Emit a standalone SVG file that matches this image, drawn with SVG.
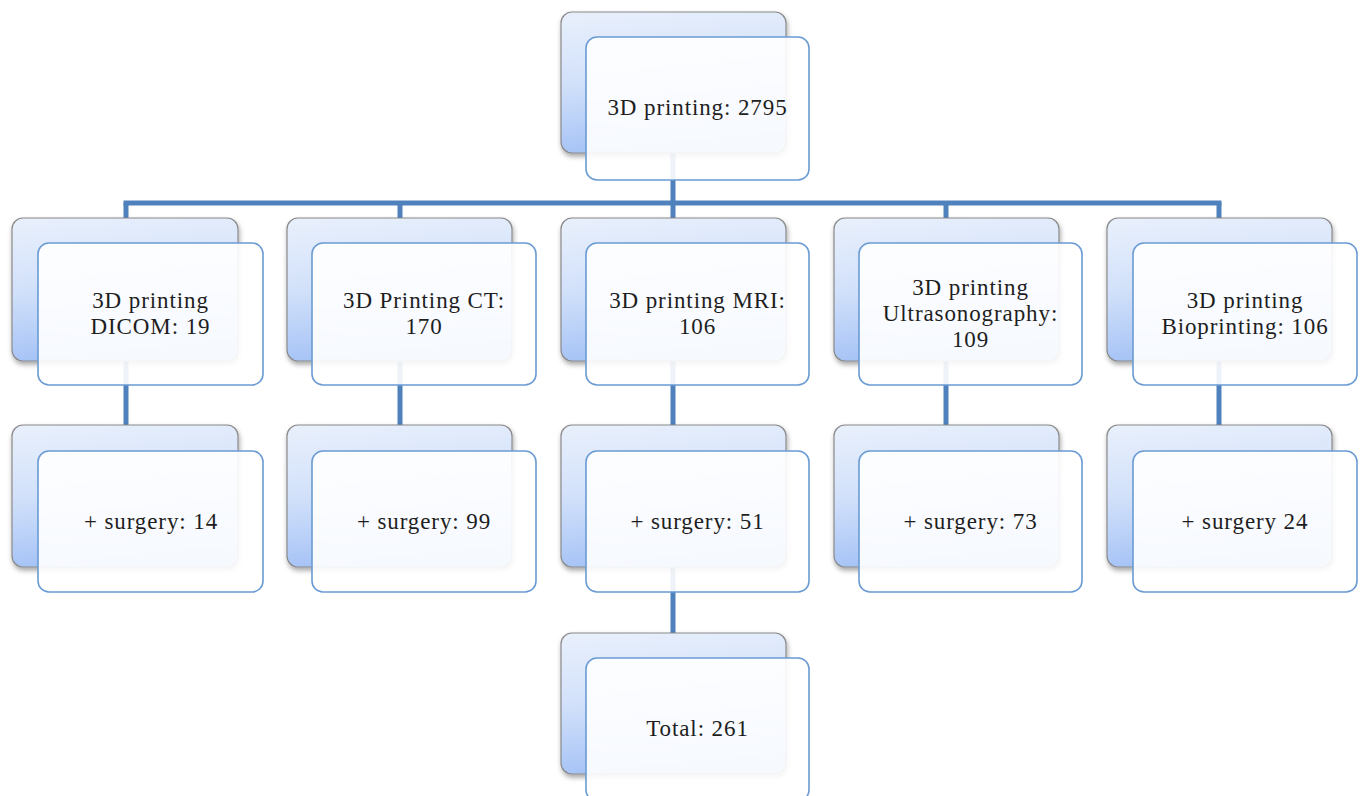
<svg xmlns="http://www.w3.org/2000/svg" width="1362" height="796" viewBox="0 0 1362 796">
<defs>
<linearGradient id="bg" x1="0" y1="0" x2="0.15" y2="1">
<stop offset="0" stop-color="#e9f0fc"/>
<stop offset="0.5" stop-color="#d2e1fa"/>
<stop offset="1" stop-color="#a6c3f6"/>
</linearGradient>
<filter id="sh" x="-10%" y="-10%" width="125%" height="130%">
<feDropShadow dx="1" dy="3" stdDeviation="2.5" flood-color="#000" flood-opacity="0.35"/>
</filter>
<style>
.back{fill:url(#bg);stroke:#8a8a8a;stroke-width:1.2;filter:url(#sh)}
.front{fill:#ffffff;fill-opacity:0.9;stroke:#6a9bd3;stroke-width:1.6}
.conn{stroke:#4f81bd;stroke-width:5;fill:none}
text{font-family:"Liberation Serif","Times New Roman",serif;font-size:23px;letter-spacing:0.9px;fill:#1e1e1e;text-anchor:middle}
</style>
</defs>
<rect width="1362" height="796" fill="#ffffff"/>
<g id="connectors">
<line class="conn" x1="673" y1="150" x2="673" y2="203"/>
<line class="conn" x1="123.5" y1="203" x2="1221.5" y2="203"/>
<line class="conn" x1="126" y1="203" x2="126" y2="222"/>
<line class="conn" x1="400" y1="203" x2="400" y2="222"/>
<line class="conn" x1="673" y1="203" x2="673" y2="222"/>
<line class="conn" x1="946" y1="203" x2="946" y2="222"/>
<line class="conn" x1="1219" y1="203" x2="1219" y2="222"/>
<line class="conn" x1="126" y1="358" x2="126" y2="428"/>
<line class="conn" x1="400" y1="358" x2="400" y2="428"/>
<line class="conn" x1="673" y1="358" x2="673" y2="428"/>
<line class="conn" x1="946" y1="358" x2="946" y2="428"/>
<line class="conn" x1="1219" y1="358" x2="1219" y2="428"/>
<line class="conn" x1="673" y1="564" x2="673" y2="636"/>
</g>
<g id="n-top">
<rect class="back" x="561" y="12" width="225" height="141" rx="11"/>
<rect class="front" x="586" y="37" width="223" height="143" rx="11"/>
<text x="697.5" y="115">3D printing: 2795</text>
</g>
<g id="n-dicom">
<rect class="back" x="12" y="218" width="226" height="143" rx="11"/>
<rect class="front" x="38" y="243" width="225" height="142" rx="11"/>
<text x="150.5" y="308">3D printing</text>
<text x="150.5" y="334">DICOM: 19</text>
</g>
<g id="n-ct">
<rect class="back" x="287" y="218" width="225" height="143" rx="11"/>
<rect class="front" x="312" y="243" width="224" height="142" rx="11"/>
<text x="424" y="308">3D Printing CT:</text>
<text x="424" y="334">170</text>
</g>
<g id="n-mri">
<rect class="back" x="561" y="218" width="225" height="143" rx="11"/>
<rect class="front" x="586" y="243" width="223" height="142" rx="11"/>
<text x="697.5" y="308">3D printing MRI:</text>
<text x="697.5" y="334">106</text>
</g>
<g id="n-ultra">
<rect class="back" x="834" y="218" width="225" height="143" rx="11"/>
<rect class="front" x="859" y="243" width="223" height="142" rx="11"/>
<text x="970.5" y="295">3D printing</text>
<text x="970.5" y="321">Ultrasonography:</text>
<text x="970.5" y="347">109</text>
</g>
<g id="n-bio">
<rect class="back" x="1107" y="218" width="225" height="143" rx="11"/>
<rect class="front" x="1133" y="243" width="224" height="142" rx="11"/>
<text x="1245" y="308">3D printing</text>
<text x="1245" y="334">Bioprinting: 106</text>
</g>
<g id="n-s-dicom">
<rect class="back" x="12" y="425" width="226" height="142" rx="11"/>
<rect class="front" x="38" y="451" width="225" height="141" rx="11"/>
<text x="151" y="529">+ surgery: 14</text>
</g>
<g id="n-s-ct">
<rect class="back" x="287" y="425" width="225" height="142" rx="11"/>
<rect class="front" x="312" y="451" width="224" height="141" rx="11"/>
<text x="424" y="529">+ surgery: 99</text>
</g>
<g id="n-s-mri">
<rect class="back" x="561" y="425" width="225" height="142" rx="11"/>
<rect class="front" x="586" y="451" width="223" height="141" rx="11"/>
<text x="697.5" y="529">+ surgery: 51</text>
</g>
<g id="n-s-ultra">
<rect class="back" x="834" y="425" width="225" height="142" rx="11"/>
<rect class="front" x="859" y="451" width="223" height="141" rx="11"/>
<text x="970.5" y="529">+ surgery: 73</text>
</g>
<g id="n-s-bio">
<rect class="back" x="1107" y="425" width="225" height="142" rx="11"/>
<rect class="front" x="1133" y="451" width="224" height="141" rx="11"/>
<text x="1245" y="529">+ surgery 24</text>
</g>
<g id="n-total">
<rect class="back" x="561" y="633" width="225" height="141" rx="11"/>
<rect class="front" x="586" y="658" width="223" height="143" rx="11"/>
<text x="697.5" y="736">Total: 261</text>
</g>
</svg>
